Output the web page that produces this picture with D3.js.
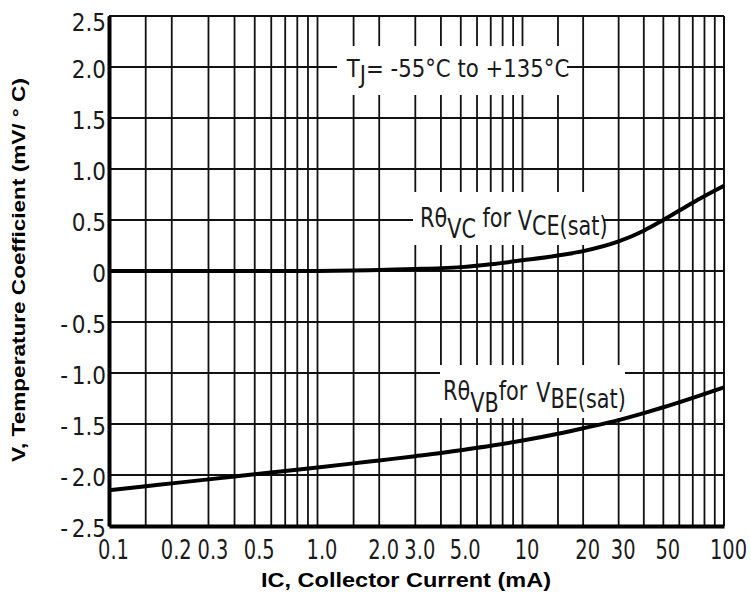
<!DOCTYPE html>
<html lang="en">
<head>
<meta charset="utf-8">
<script src="https://d3js.org/d3.v7.min.js"></script>
<style>
  body { margin: 0; background: #fff; }
  svg text { font-family: "DejaVu Sans", Verdana, sans-serif; fill: #1a1a1a; }
  svg text.title { font-family: "Liberation Sans", Arial, sans-serif; font-weight: bold; fill: #000; }
</style>
</head>
<body>
<div id="chart"></div>
<script>
// collector current Ic (mA)
const currentMA = [0.1, 0.15, 0.2, 0.3, 0.4, 0.5, 0.7, 1, 1.5, 2, 3, 4, 5, 7, 10, 15, 20, 30, 40, 50, 70, 100];
// R theta VC for VCE(sat), mV/°C
const coefVC = [0, 0, 0, 0, 0, 0, 0, 0, 0.004, 0.011, 0.02, 0.028, 0.038, 0.066, 0.105, 0.152, 0.195, 0.29, 0.395, 0.5, 0.67, 0.835];
// R theta VB for VBE(sat), mV/°C
const coefVB = [-2.15, -2.111, -2.082, -2.043, -2.015, -1.993, -1.961, -1.926, -1.886, -1.857, -1.816, -1.785, -1.757, -1.714, -1.662, -1.595, -1.541, -1.462, -1.393, -1.336, -1.243, -1.14];

// axis ticks and labels
const xTicks = [0.1, 0.2, 0.3, 0.5, 1, 2, 3, 5, 10, 20, 30, 50, 100];
const xTickLabels = ["0.1", "0.2", "0.3", "0.5", "1.0", "2.0", "3.0", "5.0", "10", "20", "30", "50", "100"];
const yTicks = [2.5, 2, 1.5, 1, 0.5, 0, -0.5, -1, -1.5, -2, -2.5];
const yTickLabels = ["2.5", "2.0", "1.5", "1.0", "0.5", "0", "-0.5", "-1.0", "-1.5", "-2.0", "-2.5"];
// log grid lines (1, 1.5, 2 ... 9 per decade)
const gridSteps = [1, 1.5, 2, 3, 4, 5, 6, 7, 8, 9];
const decades = [0.1, 1, 10];

const margin = { top: 16, right: 27, bottom: 68, left: 109 },
    width = 751 - margin.left - margin.right,
    height = 594 - margin.top - margin.bottom;

const svg = d3.select("#chart")
    .append("svg")
    .attr("width", 751)
    .attr("height", 594);

const g = svg.append("g")
    .attr("transform", `translate(${margin.left},${margin.top})`);

// x is log, decades slightly uneven on the original sheet
const x = d3.scaleLog()
    .domain([0.1, 1, 10, 100])
    .range([0, 208.5, 413.5, width]);

const y = d3.scaleLinear()
    .domain([-2.5, 2.5])
    .range([height, 0]);

// grid
const gridX = decades.flatMap(d => gridSteps.map(s => +(d * s).toPrecision(3))).concat([100]);

g.append("g")
    .selectAll("line")
    .data(gridX)
    .join("line")
    .attr("x1", d => x(d))
    .attr("x2", d => x(d))
    .attr("y1", 0)
    .attr("y2", height)
    .attr("stroke", "#111")
    .attr("stroke-width", 1.8);

g.append("g")
    .selectAll("line")
    .data(yTicks)
    .join("line")
    .attr("x1", 0)
    .attr("x2", width)
    .attr("y1", d => y(d))
    .attr("y2", d => y(d))
    .attr("stroke", "#111")
    .attr("stroke-width", 1.8);

// white patches behind the annotations
const boxes = [
    [228, 30, 230, 49],
    [304, 176, 190, 53],
    [331, 349, 185, 53]
];
g.append("g")
    .selectAll("rect")
    .data(boxes)
    .join("rect")
    .attr("x", d => d[0])
    .attr("y", d => d[1])
    .attr("width", d => d[2])
    .attr("height", d => d[3])
    .attr("fill", "#fff");

// frame
g.append("line").attr("x1", 0).attr("x2", width).attr("y1", 0).attr("y2", 0)
    .attr("stroke", "#111").attr("stroke-width", 2);
g.append("line").attr("x1", width).attr("x2", width).attr("y1", 0).attr("y2", height)
    .attr("stroke", "#111").attr("stroke-width", 2);

// X axis
const xAxis = g.append("g")
    .attr("transform", `translate(0,${height})`)
    .call(d3.axisBottom(x)
        .tickValues(xTicks)
        .tickFormat((d, i) => xTickLabels[i])
        .tickSize(0)
        .tickSizeOuter(0));
xAxis.select(".domain").attr("stroke", "#000").attr("stroke-width", 4);
xAxis.selectAll("text")
    .attr("y", 0)
    .attr("dy", null)
    .attr("transform", "translate(4,33) scale(0.72,1)")
    .style("font-size", "27px")
    .style("font-family", null);

// Y axis
const yAxis = g.append("g")
    .call(d3.axisLeft(y)
        .tickValues(yTicks)
        .tickFormat((d, i) => yTickLabels[i])
        .tickSize(0)
        .tickSizeOuter(0));
yAxis.select(".domain").attr("stroke", "#000").attr("stroke-width", 4);
yAxis.selectAll("text")
    .attr("x", 0)
    .attr("dy", "0.36em")
    .attr("transform", d => `translate(-3,${d === 2.5 ? 6 : 2}) scale(0.9,1)`)
    .style("font-size", "24px")
    .style("font-family", null)
    .each(function () {
        const t = d3.select(this);
        const s = t.text();
        if (s.startsWith("-")) {
            t.text("");
            t.append("tspan").text("-");
            t.append("tspan").attr("dx", 4).text(s.slice(1));
        }
    });

// curves
const line = d3.line()
    .x(d => x(d[0]))
    .y(d => y(d[1]))
    .curve(d3.curveMonotoneX);

[coefVC, coefVB].forEach(series => {
    g.append("path")
        .datum(currentMA.map((c, i) => [c, series[i]]))
        .attr("fill", "none")
        .attr("stroke", "#000")
        .attr("stroke-width", 4)
        .attr("d", line);
});

// annotations
const tj = g.append("text")
    .attr("transform", "translate(237.7,60.7) scale(0.85,1)")
    .style("font-size", "25px");
tj.append("tspan").text("T");
tj.append("tspan").attr("dy", 6.5).text("J");
tj.append("tspan").attr("dy", -6.5).text("= -55°C to +135°C");

const vc = g.append("text")
    .attr("transform", "translate(311,210.7) scale(0.8,1)")
    .style("font-size", "26px");
vc.append("tspan").text("Rθ");
vc.append("tspan").attr("dy", 11.6).text("VC");
vc.append("tspan").attr("dy", -11.6).text(" for ");
vc.append("tspan").attr("dy", 3.3).text("V");
vc.append("tspan").attr("dy", 5).text("CE(sat)");

const vb = g.append("text")
    .attr("transform", "translate(334,384) scale(0.8,1)")
    .style("font-size", "26px");
vb.append("tspan").text("Rθ");
vb.append("tspan").attr("dy", 12).text("VB");
vb.append("tspan").attr("dy", -12).text("for ");
vb.append("tspan").attr("dx", 3).attr("dy", 1.7).text("V");
vb.append("tspan").attr("dy", 6.6).text("BE(sat)");

// axis titles
svg.append("text")
    .attr("class", "title")
    .attr("text-anchor", "middle")
    .attr("transform", "translate(406,587) scale(1.12,1)")
    .style("font-size", "21px")
    .text("IC, Collector Current (mA)");

svg.append("text")
    .attr("class", "title")
    .attr("text-anchor", "middle")
    .attr("transform", "translate(25,270) rotate(-90) scale(1.22,1)")
    .style("font-size", "18.5px")
    .text("V, Temperature Coefficient (mV/ ° C)");
</script>
</body>
</html>
